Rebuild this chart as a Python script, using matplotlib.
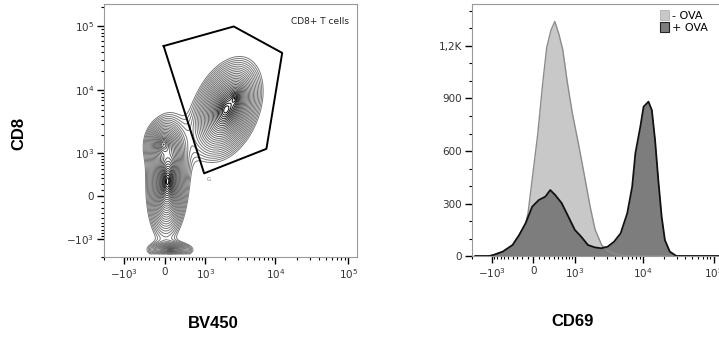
import numpy as np
import matplotlib
matplotlib.use("Agg")
import matplotlib.pyplot as plt
from matplotlib.patches import Patch
from matplotlib.colors import LinearSegmentedColormap

# ---- data ----
# left panel: cell populations (centre in data units, spread in asinh units)
pop_names = ["CD8+ main", "CD8+ core", "CD8- main", "CD8- upper", "CD8- low"]
pop_bv450 = [2046, 2730, 56, -20, 113]
pop_cd8 = [4985, 7600, 249, 1400, -1530]
pop_sx = [0.18, 0.07, 0.105, 0.12, 0.15]
pop_sy = [0.29, 0.14, 0.34, 0.17, 0.06]
pop_rho = [0.35, 0.30, 0.10, 0.0, 0.0]
pop_w = [1.0, 0.6, 1.0, 0.35, 0.30]

# CD8+ T cell gate (BV450, CD8)
gate_bv450 = [-19, 2640, 12370, 7500, 960, -19]
gate_cd8 = [49200, 99400, 38400, 1180, 406, 49200]

# right panel: CD69 histograms
cd69_plus = [-1790, -1100, -950, -643, -400, -262, -137, -18, 101, 223, 322, 429, 589, 780,
             1003, 1266, 1598, 1997, 2494, 3110, 3855, 4785, 5940, 6985, 7765, 9125,
             10150, 11910, 13290, 14780, 16430, 18330, 20390, 23940, 29700, 132000]
count_plus = [0, 0, 5, 25, 63, 120, 188, 282, 320, 339, 377, 349, 302, 225,
              149, 110, 63, 50, 44, 53, 82, 130, 244, 396, 588, 739,
              853, 882, 834, 663, 434, 225, 91, 25, 0, 0]

cd69_minus = [-1790, -1100, -950, -643, -400, -262, -137, -94, -18, 83, 174, 250, 336, 422,
              515, 617, 751, 913, 1139, 1456, 1730, 2045, 2550, 3110, 3855, 4785,
              6000, 132000]
count_minus = [0, 0, 5, 25, 63, 120, 188, 245, 440, 700, 990, 1190, 1290, 1340,
               1270, 1180, 990, 815, 645, 435, 280, 150, 63, 30, 15, 5, 0, 0]

x_ticks = [-1000, 0, 1000, 10000, 100000]
x_labels = [r"$\mathregular{-10^3}$", "0", r"$\mathregular{10^3}$",
            r"$\mathregular{10^4}$", r"$\mathregular{10^5}$"]
y_ticks = [-1000, 0, 1000, 10000, 100000]
y_labels = x_labels
hist_ticks = [0, 300, 600, 900, 1200]
hist_labels = ["0", "300", "600", "900", "1,2K"]

# minor ticks, flow-cytometry style
minor = ([-m * 100 for m in range(1, 10)] + [m * 100 for m in range(1, 10)]
         + [m * 1000 for m in range(2, 10)] + [m * 10000 for m in range(2, 10)]
         + [-2000])

plt.rcParams["font.family"] = ["DejaVu Sans"]
tick_color = "#333333"
spine_color = "#999999"

fig = plt.figure(figsize=(7.19, 3.39), dpi=100)


def style_axes(ax):
    for s in ax.spines.values():
        s.set_color(spine_color)
        s.set_linewidth(0.8)
    ax.tick_params(which="major", length=5, width=1.0, color="black",
                   labelsize=7.5, labelcolor=tick_color, pad=2)
    ax.tick_params(which="minor", length=2.5, width=0.8, color="black")


# ---- left: contour plot ----
ax1 = fig.add_axes([104 / 719, 1 - 257 / 339, 253 / 719, 253 / 339])
ax1.set_xscale("asinh", linear_width=600)
ax1.set_yscale("asinh", linear_width=450)

ux = np.linspace(-1.9, 6.2, 600)
uy = np.linspace(-2.1, 7.0, 600)
UX, UY = np.meshgrid(ux, uy)
Z = np.zeros_like(UX)
for cx, cy, sx, sy, r, w in zip(pop_bv450, pop_cd8, pop_sx, pop_sy, pop_rho, pop_w):
    mx = np.arcsinh(cx / 600)
    my = np.arcsinh(cy / 450)
    dx = (UX - mx) / sx
    dy = (UY - my) / sy
    q = (dx ** 2 - 2 * r * dx * dy + dy ** 2) / (1 - r ** 2)
    Z += w * np.exp(-(q + 0.3) ** 0.42)
X = 600 * np.sinh(UX)
Y = 450 * np.sinh(UY)

levels = Z.max() * np.geomspace(0.014, 0.88, 27)
cmap = LinearSegmentedColormap.from_list("g", ["#7a7a7a", "#303030", "#000000"])
ax1.contour(X, Y, Z, levels=levels, cmap=cmap, linewidths=0.7)

ax1.plot(gate_bv450, gate_cd8, color="black", lw=1.4)
ax1.text(1150, 330, "G", fontsize=4, color="#777777", ha="center", va="top")

ax1.set_xlim(-1780, 132000)
ax1.set_ylim(-1625, 223000)
ax1.set_xticks(x_ticks, x_labels)
ax1.set_yticks(y_ticks, y_labels)
ax1.set_xticks(minor, minor=True)
ax1.set_yticks(minor + [200000], minor=True)
style_axes(ax1)
fig.text(349 / 719, 1 - 22 / 339, "CD8+ T cells", fontsize=6.5, color="#222222",
         ha="right", va="center")

# ---- right: histogram ----
ax2 = fig.add_axes([472 / 719, 1 - 256 / 339, 250 / 719, 252 / 339])
ax2.set_xscale("asinh", linear_width=550)
ax2.fill_between(cd69_minus, count_minus, color="#c8c8c8", lw=0)
ax2.plot(cd69_minus, count_minus, color="#8c8c8c", lw=1.0)
ax2.fill_between(cd69_plus, count_plus, color="#7d7d7d", lw=0)
ax2.plot(cd69_plus, count_plus, color="#111111", lw=1.3)

ax2.set_xlim(-1790, 132000)
ax2.set_ylim(0, 1440)
ax2.set_xticks(x_ticks, x_labels)
ax2.set_xticks(minor, minor=True)
ax2.set_yticks(hist_ticks, hist_labels)
ax2.set_yticks([100, 200, 400, 500, 700, 800, 1000, 1100, 1300, 1400], minor=True)
style_axes(ax2)

handles = [Patch(facecolor="#c8c8c8", edgecolor="#b0b0b0", lw=0.6),
           Patch(facecolor="#7d7d7d", edgecolor="#222222", lw=0.8)]
fig.legend(handles, ["- OVA", "+ OVA"], loc="upper left",
           bbox_to_anchor=(660 / 719, 1 - 10 / 339), frameon=False, fontsize=8,
           handlelength=0.85, handleheight=0.95, handletextpad=0.25,
           labelspacing=0.15, borderpad=0, borderaxespad=0)

# ---- axis titles ----
lab = dict(family=["Liberation Sans", "DejaVu Sans"], fontweight="bold", fontsize=12)
fig.text(19 / 719, 1 - 133 / 339, "CD8", rotation=90, ha="center", va="center", **lab)
fig.text(213 / 719, 1 - 323 / 339, "BV450", ha="center", va="center", **lab)
fig.text(573 / 719, 1 - 322 / 339, "CD69", ha="center", va="center", **lab)

fig.savefig("out.png", dpi=100)
